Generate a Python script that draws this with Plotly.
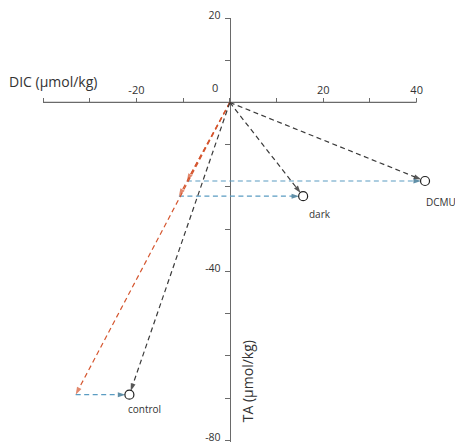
import plotly.graph_objects as go

# ---- data ----
treatments = ["DCMU", "dark", "control"]
total_dic = [41.8, 15.7, -21.5]      # net change (black arrows end / circles)
total_ta = [-18.6, -22.2, -69.2]
calc_dic = [-9.2, -10.9, -33.0]      # calcification component (red arrows end)
calc_ta = [-18.6, -22.2, -69.2]
origin_dic = [0, 0, 0]
origin_ta = [0, 0, 0]

x_tickvals = [-40, -30, -20, -10, 0, 10, 20, 30, 40]
x_ticktext = ["", "", "-20", "", "", "", "20", "", "40"]
y_tickvals = [20, 10, 0, -10, -20, -30, -40, -50, -60, -70, -80]
y_ticktext = ["20", "", "", "", "", "", "-40", "", "", "", "-80"]
x_axis_extent = [-40, 40]
x_range = [-40, 48]
y_range = [-80.4, 20]

# ---- styles ----
BLACK = "#3a3a3a"
RED = "#d5562f"
BLUE = "#5a9cc2"
BLUE_HEAD = "#1d5f82"
AXIS = "#6a6a6a"
TXT = "#333333"
FONT = "Open Sans"
DASH = "5px,3.5px"
label_shift = [(-1, -12), (4, -9), (-3, -5)]

fig = go.Figure()


def arrow(x0, y0, x1, y1, color, head_color, standoff):
    fig.add_trace(go.Scatter(
        x=[x0, x1], y=[y0, y1], mode="lines+markers",
        line=dict(color=color, width=1.2, dash=DASH),
        marker=dict(symbol="arrow", size=[0, 8], angleref="previous",
                    color=head_color, standoff=[0, standoff],
                    line=dict(width=0)),
        hoverinfo="skip", showlegend=False, cliponaxis=False))


for i in range(len(treatments)):
    # red: origin -> calcification point
    arrow(origin_dic[i], origin_ta[i], calc_dic[i], calc_ta[i], RED, RED, 0)
    # blue: calcification point -> net point
    arrow(calc_dic[i], calc_ta[i], total_dic[i], total_ta[i], BLUE, BLUE_HEAD, 4)
    # black: origin -> net point
    arrow(origin_dic[i], origin_ta[i], total_dic[i], total_ta[i], BLACK, "#111111", 4)

# open circles
fig.add_trace(go.Scatter(
    x=total_dic, y=total_ta, mode="markers",
    marker=dict(symbol="circle-open", size=9, color="#222222",
                line=dict(width=1.2, color="#222222")),
    hoverinfo="skip", showlegend=False, cliponaxis=False))

annotations = []
for i, name in enumerate(treatments):
    annotations.append(dict(
        x=total_dic[i], y=total_ta[i], xref="x", yref="y", text=name,
        showarrow=False, xanchor="left", yanchor="top",
        xshift=label_shift[i][0], yshift=label_shift[i][1],
        font=dict(family=FONT, size=10, color=TXT)))

annotations.append(dict(
    x=x_range[0], y=0, xref="x", yref="y", text="DIC (µmol/kg)",
    showarrow=False, xanchor="left", yanchor="middle",
    xshift=-36, yshift=21, font=dict(family=FONT, size=14, color=TXT)))
annotations.append(dict(
    x=0, y=-67, xref="x", yref="y", text="TA (µmol/kg)", textangle=-90,
    showarrow=False, xanchor="center", yanchor="middle",
    xshift=18, yshift=4, font=dict(family=FONT, size=14, color=TXT)))
annotations.append(dict(
    x=0, y=0, xref="x", yref="y", text="0",
    showarrow=False, xanchor="center", yanchor="middle",
    xshift=-15, yshift=15, font=dict(family=FONT, size=11, color=TXT)))

shapes = [dict(type="line", xref="x", yref="y",
               x0=x_axis_extent[0], x1=x_axis_extent[1], y0=0, y1=0,
               line=dict(color=AXIS, width=1.2), layer="below")]

# the page body has an 8px default margin, so the figure is sized to fit
fig.update_layout(
    width=455, height=436,
    margin=dict(l=35, r=9, t=10, b=2.3),
    paper_bgcolor="white", plot_bgcolor="white",
    font=dict(family=FONT, size=11, color=TXT),
    annotations=annotations, shapes=shapes,
    xaxis=dict(range=x_range, anchor="free",
               position=(0 - y_range[0]) / (y_range[1] - y_range[0]),
               side="top", showgrid=False, zeroline=False, showline=False,
               tickmode="array", tickvals=x_tickvals, ticktext=x_ticktext,
               ticks="outside", ticklen=4, tickwidth=1.2, tickcolor=AXIS,
               tickfont=dict(family=FONT, size=11, color=TXT),
               ticklabeloverflow="allow",
               layer="below traces", fixedrange=True, automargin=False),
    yaxis=dict(range=y_range, anchor="free",
               position=(0 - x_range[0]) / (x_range[1] - x_range[0]),
               side="left", showgrid=False, zeroline=False, showline=True,
               linecolor=AXIS, linewidth=1.2,
               tickmode="array", tickvals=y_tickvals, ticktext=y_ticktext,
               ticks="outside", ticklen=5, tickwidth=1.2, tickcolor=AXIS,
               ticklabelstandoff=2, ticklabelshift=-3, ticklabeloverflow="allow",
               tickfont=dict(family=FONT, size=10.5, color=TXT),
               layer="below traces", fixedrange=True, automargin=False),
)

fig.write_html("out.html", config={"displayModeBar": False})
